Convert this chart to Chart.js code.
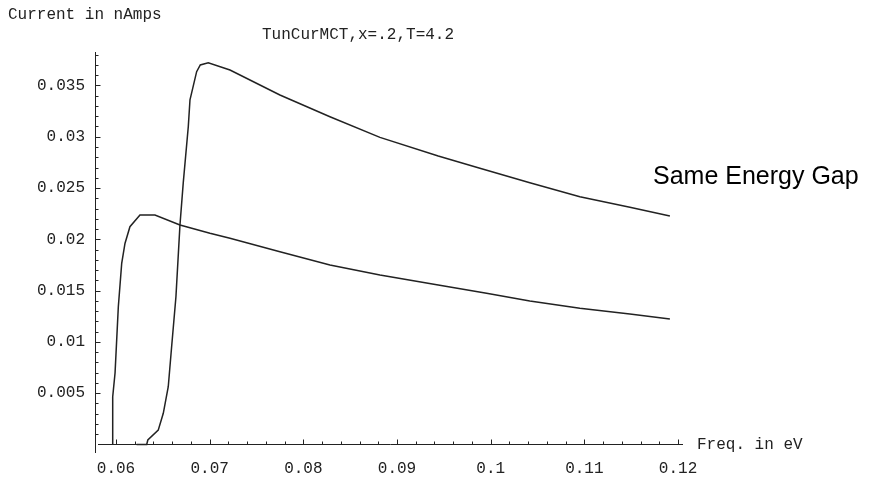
<!DOCTYPE html>
<html>
<head>
<meta charset="utf-8">
<script src="https://cdn.jsdelivr.net/npm/chart.js@4.4.1/dist/chart.umd.min.js"></script>
<style>
  html, body { margin: 0; padding: 0; background: #fff; }
  #wrap { width: 875px; height: 479px; }
</style>
</head>
<body>
<div id="wrap"><canvas id="plot" width="875" height="479"></canvas></div>
<script>
// lower curve: onset near 0.0597 eV
const freqLow = [0.05965, 0.05965, 0.0599, 0.06025, 0.06061, 0.06096, 0.06149, 0.06256, 0.06416,
    0.06683, 0.07003, 0.07217, 0.0775, 0.08284, 0.08818, 0.0944, 0.09956, 0.10418, 0.10952, 0.11486, 0.11913];
const currLow = [0, 0.00466, 0.00697, 0.01343, 0.01766, 0.0196, 0.02123, 0.02237, 0.02237,
    0.0214, 0.02059, 0.0201, 0.01879, 0.0175, 0.01652, 0.01555, 0.01474, 0.01399, 0.01327, 0.01272, 0.01223];

// upper curve: onset near 0.063 eV
const freqHigh = [0.0622, 0.06328, 0.0634, 0.06451, 0.06505, 0.06558, 0.06594, 0.0664, 0.06683, 0.06718,
    0.06772, 0.0679, 0.06861, 0.069, 0.06985, 0.07217, 0.0775, 0.08284, 0.08818, 0.0944, 0.09885,
    0.10418, 0.10952, 0.11486, 0.11913];
const currHigh = [0, 0, 0.00044, 0.0014, 0.00304, 0.00563, 0.00953, 0.0144, 0.0214, 0.0255,
    0.031, 0.0336, 0.03634, 0.037, 0.03721, 0.0365, 0.03407, 0.03195, 0.02994, 0.02812, 0.02692,
    0.02552, 0.02415, 0.02312, 0.02227];

const xTicks = [0.06, 0.07, 0.08, 0.09, 0.1, 0.11, 0.12];
const xTickLabels = ['0.06', '0.07', '0.08', '0.09', '0.1', '0.11', '0.12'];
const yTicks = [0.005, 0.01, 0.015, 0.02, 0.025, 0.03, 0.035];
const yTickLabels = ['0.005', '0.01', '0.015', '0.02', '0.025', '0.03', '0.035'];

const yAxisLabel = 'Current in nAmps';
const xAxisLabel = 'Freq. in eV';
const plotTitle = 'TunCurMCT,x=.2,T=4.2';
const noteText = 'Same Energy Gap';

const monoFont = "'Liberation Mono', 'DejaVu Sans Mono', monospace";
const ink = '#222';

// axes drawn Mathematica style: ticks point inward, x axis sits at y = 0
const mmaAxes = {
    id: 'mmaAxes',
    afterDraw(chart) {
        const { ctx, chartArea: a, scales: { x, y } } = chart;
        const y0 = Math.round(y.getPixelForValue(0)) + 0.5;
        const xl = Math.round(a.left) + 0.5;
        ctx.save();
        ctx.strokeStyle = ink;
        ctx.lineWidth = 1;
        ctx.beginPath();
        ctx.moveTo(xl, a.top);
        ctx.lineTo(xl, a.bottom);
        ctx.moveTo(a.left + 3, y0);
        ctx.lineTo(a.right, y0);
        for (let k = 30; k <= 60; k++) {
            const px = Math.round(x.getPixelForValue(k * 0.002)) + 0.5;
            const len = k % 5 === 0 ? 5 : 3;
            ctx.moveTo(px, y0);
            ctx.lineTo(px, y0 - len);
        }
        for (let k = 1; k <= 38; k++) {
            const py = Math.round(y.getPixelForValue(k * 0.001)) + 0.5;
            const len = k % 5 === 0 ? 5 : 3;
            ctx.moveTo(xl, py);
            ctx.lineTo(xl + len, py);
        }
        ctx.stroke();

        ctx.fillStyle = ink;
        ctx.textBaseline = 'alphabetic';
        ctx.font = '16px ' + monoFont;
        ctx.textAlign = 'left';
        ctx.fillText(yAxisLabel, 8, 19);
        ctx.fillText(plotTitle, 262, 39);
        ctx.fillText(xAxisLabel, 697, 449);

        ctx.font = "25px 'Liberation Sans', Arial, sans-serif";
        ctx.fillStyle = '#000';
        ctx.fillText(noteText, 653, 184);
        ctx.restore();
    }
};

const toPoints = (xs, ys) => xs.map((v, i) => ({ x: v, y: ys[i] }));

new Chart(document.getElementById('plot'), {
    type: 'line',
    data: {
        datasets: [
            { label: 'low', data: toPoints(freqLow, currLow) },
            { label: 'high', data: toPoints(freqHigh, currHigh) }
        ]
    },
    options: {
        responsive: false,
        animation: false,
        devicePixelRatio: 1,
        layout: { padding: { left: 35, top: 52, right: 192, bottom: 0 } },
        elements: {
            point: { radius: 0 },
            line: { borderColor: ink, borderWidth: 1.5, tension: 0, fill: false }
        },
        plugins: {
            legend: { display: false },
            tooltip: { enabled: false },
            title: { display: false }
        },
        scales: {
            x: {
                type: 'linear',
                min: 0.05776,
                max: 0.12053,
                grid: { display: false, drawTicks: false },
                border: { display: false },
                afterBuildTicks: s => { s.ticks = xTicks.map(v => ({ value: v })); },
                afterFit: s => { s.height = 26; },
                ticks: {
                    padding: 6,
                    autoSkip: false,
                    maxRotation: 0,
                    color: ink,
                    font: { family: monoFont, size: 16 },
                    callback: (v, i) => xTickLabels[i]
                }
            },
            y: {
                type: 'linear',
                position: 'left',
                min: -0.00083,
                max: 0.03826,
                grid: { display: false, drawTicks: false },
                border: { display: false },
                afterBuildTicks: s => { s.ticks = yTicks.map(v => ({ value: v })); },
                afterFit: s => { s.width = 60; },
                ticks: {
                    padding: 10,
                    autoSkip: false,
                    color: ink,
                    font: { family: monoFont, size: 16 },
                    callback: (v, i) => yTickLabels[i]
                }
            }
        }
    },
    plugins: [mmaAxes]
});
</script>
</body>
</html>
